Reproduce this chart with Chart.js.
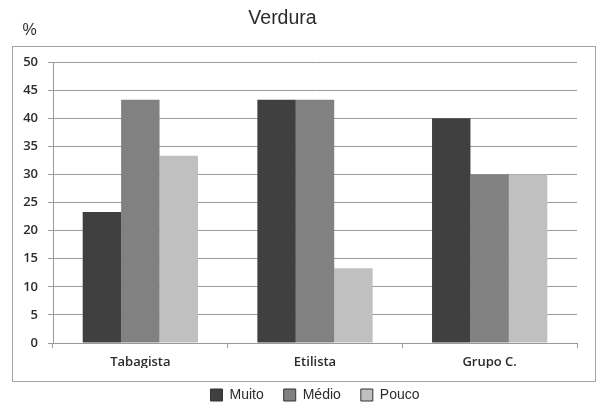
<!DOCTYPE html>
<html lang="pt">
<head>
<meta charset="utf-8">
<title>Verdura</title>
<script src="https://cdn.jsdelivr.net/npm/chart.js@4"></script>
<style>
    html, body { margin: 0; padding: 0; background: #fff; overflow: hidden; }
    canvas { display: block; }
</style>
</head>
<body>
<canvas id="graficoVerdura" width="603" height="412"></canvas>
<script>
const categorias = ['Tabagista', 'Etilista', 'Grupo C.'];
const muito = [23.3, 43.3, 40];
const medio = [43.3, 43.3, 30];
const pouco = [33.3, 13.3, 30];
const ticksY = [0, 5, 10, 15, 20, 25, 30, 35, 40, 45, 50];

const corGrade = '#9a9a9a';
const corTexto = '#2b2b2b';

// titulo, rotulo "%" e moldura em volta do grafico
const molduraPlugin = {
    id: 'moldura',
    beforeDraw(chart) {
        const ctx = chart.ctx;
        ctx.save();
        ctx.fillStyle = '#fff';
        ctx.fillRect(0, 0, chart.width, chart.height);
        ctx.strokeStyle = '#a4a4a4';
        ctx.lineWidth = 1;
        ctx.strokeRect(12.5, 46.5, 583, 335);
        ctx.restore();
    },
    afterDraw(chart) {
        const ctx = chart.ctx;
        ctx.save();
        ctx.fillStyle = corTexto;
        ctx.textAlign = 'center';
        ctx.textBaseline = 'alphabetic';
        ctx.font = '19.5px "Liberation Sans", Arial, sans-serif';
        ctx.fillText('Verdura', 282.5, 24);
        ctx.font = '16px "Liberation Sans", Arial, sans-serif';
        ctx.fillText('%', 29.5, 35);
        ctx.restore();
    }
};

const ctx = document.getElementById('graficoVerdura').getContext('2d');
new Chart(ctx, {
    type: 'bar',
    data: {
        labels: categorias,
        datasets: [
            { label: 'Muito', data: muito, backgroundColor: '#404040' },
            { label: 'Médio', data: medio, backgroundColor: '#818181' },
            { label: 'Pouco', data: pouco, backgroundColor: '#c0c0c0' }
        ]
    },
    options: {
        responsive: false,
        animation: false,
        devicePixelRatio: 1,
        layout: { padding: { left: 12, right: 26, top: 62, bottom: 0 } },
        datasets: {
            bar: { categoryPercentage: 0.66, barPercentage: 1, borderWidth: 0 }
        },
        plugins: {
            title: { display: false },
            tooltip: { enabled: false },
            legend: {
                position: 'bottom',
                fullSize: false,
                labels: {
                    boxWidth: 12,
                    boxHeight: 12,
                    padding: 20,
                    color: corTexto,
                    font: { family: '"Liberation Sans", Arial, sans-serif', size: 14 },
                    generateLabels: (chart) => {
                        const itens = Chart.defaults.plugins.legend.labels.generateLabels(chart);
                        itens.forEach(item => {
                            item.strokeStyle = '#333';
                            item.lineWidth = 1;
                        });
                        return itens;
                    }
                }
            }
        },
        scales: {
            x: {
                afterFit: (scale) => { scale.height = 25; },
                grid: {
                    offset: true,
                    drawOnChartArea: false,
                    drawTicks: true,
                    tickLength: 5,
                    color: corGrade
                },
                border: { color: corGrade },
                ticks: {
                    padding: 6,
                    color: corTexto,
                    font: { family: '"Open Sans", sans-serif', size: 13, weight: '600' }
                }
            },
            y: {
                min: 0,
                max: 50,
                afterFit: (scale) => { scale.width = 41; },
                afterBuildTicks: (scale) => {
                    scale.ticks = ticksY.map(v => ({ value: v }));
                },
                grid: {
                    color: corGrade,
                    tickLength: 5
                },
                border: { color: corGrade },
                ticks: {
                    padding: 10,
                    color: corTexto,
                    font: { family: '"Open Sans", sans-serif', size: 13, weight: '600' }
                }
            }
        }
    },
    plugins: [molduraPlugin]
});
</script>
</body>
</html>
